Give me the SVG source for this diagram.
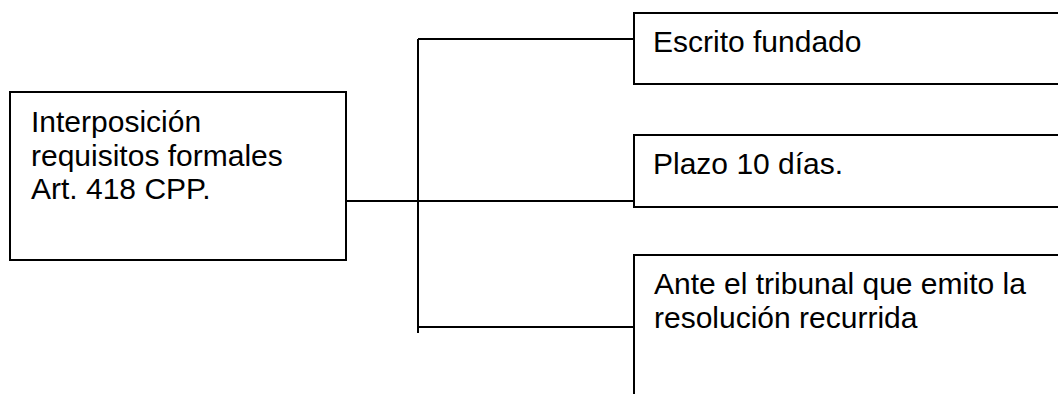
<svg xmlns="http://www.w3.org/2000/svg" width="1058" height="394" viewBox="0 0 1058 394">
  <style>
    .box { fill: #ffffff; stroke: #000000; stroke-width: 2; }
    .link { fill: none; stroke: #000000; stroke-width: 2; }
    .label { font-family: "Liberation Sans", Arial, sans-serif; font-size: 30px; fill: #000000; }
  </style>
  <rect width="1058" height="394" fill="#ffffff"/>

  <!-- connectors: trunk from the source box, vertical spine, branches -->
  <g id="connectors">
    <line class="link" x1="346" y1="201" x2="634" y2="201"/>
    <line class="link" x1="418" y1="39" x2="418" y2="333"/>
    <line class="link" x1="418" y1="39" x2="634" y2="39"/>
    <line class="link" x1="418" y1="327" x2="634" y2="327"/>
  </g>

  <g id="node-interposicion">
    <rect class="box" x="10" y="92" width="336" height="168"/>
    <text class="label" x="31" y="132">Interposición</text>
    <text class="label" x="31" y="165.5">requisitos formales</text>
    <text class="label" x="31" y="199">Art. 418 CPP.</text>
  </g>

  <g id="node-escrito">
    <rect class="box" x="634" y="13" width="460" height="71"/>
    <text class="label" x="653" y="51.5">Escrito fundado</text>
  </g>

  <g id="node-plazo">
    <rect class="box" x="634" y="135" width="460" height="72"/>
    <text class="label" x="653" y="174">Plazo 10 días.</text>
  </g>

  <g id="node-tribunal">
    <rect class="box" x="634" y="255" width="460" height="200"/>
    <text class="label" x="654" y="294">Ante el tribunal que emito la</text>
    <text class="label" x="654" y="328">resolución recurrida</text>
  </g>
</svg>
